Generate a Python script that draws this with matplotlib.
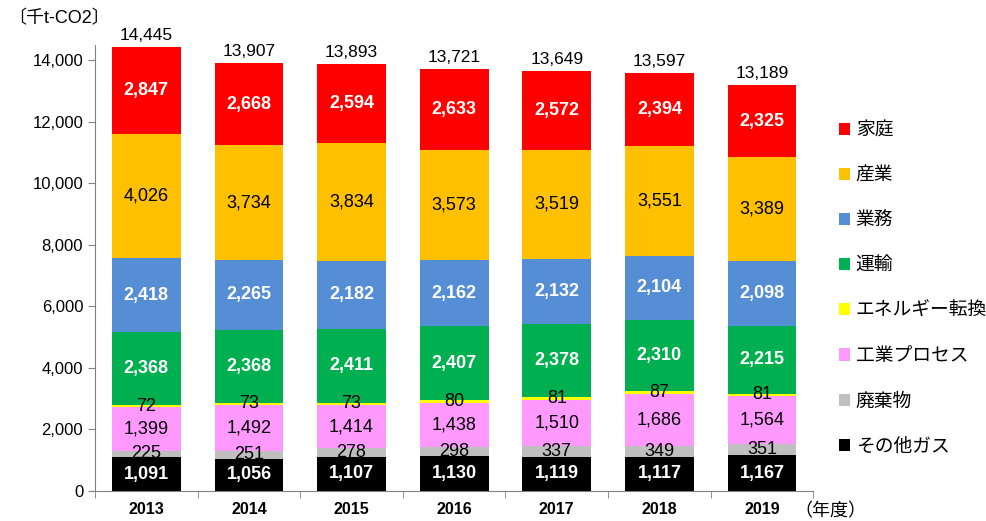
import matplotlib
matplotlib.use("Agg")
import matplotlib.pyplot as plt
from matplotlib.patches import Patch
import numpy as np

plt.rcParams['font.family'] = ['Liberation Sans', 'Noto Sans CJK JP', 'DejaVu Sans']

years = ['2013', '2014', '2015', '2016', '2017', '2018', '2019']
sectors = ['その他ガス', '廃棄物', '工業プロセス', 'エネルギー転換', '運輸', '業務', '産業', '家庭']
other_gas = [1091, 1056, 1107, 1130, 1119, 1117, 1167]
waste = [225, 251, 278, 298, 337, 349, 351]
industrial_process = [1399, 1492, 1414, 1438, 1510, 1686, 1564]
energy_conv = [72, 73, 73, 80, 81, 87, 81]
transport = [2368, 2368, 2411, 2407, 2378, 2310, 2215]
business = [2418, 2265, 2182, 2162, 2132, 2104, 2098]
industry = [4026, 3734, 3834, 3573, 3519, 3551, 3389]
household = [2847, 2668, 2594, 2633, 2572, 2394, 2325]
totals = [14445, 13907, 13893, 13721, 13649, 13597, 13189]

series = [other_gas, waste, industrial_process, energy_conv, transport, business, industry, household]
colors = ['#000000', '#BFBFBF', '#FF99FF', '#FFFF00', '#00B050', '#558ED5', '#FFC000', '#FF0000']
text_colors = ['white', 'black', 'black', 'black', 'white', 'white', 'black', 'white']

fig = plt.figure(figsize=(9.87, 5.21), dpi=100)
ax = fig.add_axes([0.0963, 0.0576, 0.7277, 0.856])

x = np.arange(len(years))
bottom = np.zeros(len(years))
for vals, c, tc in zip(series, colors, text_colors):
    vals = np.array(vals)
    ax.bar(x, vals, 0.67, bottom=bottom, color=c, edgecolor='none')
    for xi, b, v in zip(x, bottom, vals):
        ax.text(xi, b + v / 2, f'{v:,}', ha='center', va='center', color=tc,
                fontsize=13, fontweight='bold' if tc == 'white' else 'normal')
    bottom += vals

for xi, t, top in zip(x, totals, bottom):
    ax.text(xi, top + 130, f'{t:,}', ha='center', va='bottom', fontsize=12.5)

ax.set_xlim(-0.5, len(years) - 0.5)
ax.set_ylim(0, 14500)
ax.set_yticks(range(0, 14001, 2000))
ax.set_yticklabels([f'{v:,}' for v in range(0, 14001, 2000)], fontsize=12)
ax.set_xticks(x)
ax.set_xticklabels(years, fontsize=11.5, fontweight='bold')
ax.tick_params(axis='x', length=0, pad=8)
ax.set_xticks(np.arange(-0.5, len(years)), minor=True)
ax.tick_params(axis='x', which='minor', length=5, color='#808080')
ax.tick_params(axis='y', length=5, color='#808080')

for s in ['top', 'right']:
    ax.spines[s].set_visible(False)
for s in ['left', 'bottom']:
    ax.spines[s].set_color('#808080')

handles = [Patch(facecolor=c, edgecolor='none') for c in colors][::-1]
fig.legend(handles, sectors[::-1], loc='upper left', bbox_to_anchor=(0.842, 0.78),
           frameon=False, fontsize=13.5, handlelength=0.62, handleheight=0.62,
           handletextpad=0.3, labelspacing=1.5, borderaxespad=0)

fig.text(0.008, 0.965, '〔千t-CO2〕', fontsize=13, va='center', ha='left')
fig.text(0.805, 0.018, '（年度）', fontsize=13, va='center', ha='left')

fig.savefig('out.png', dpi=100)
